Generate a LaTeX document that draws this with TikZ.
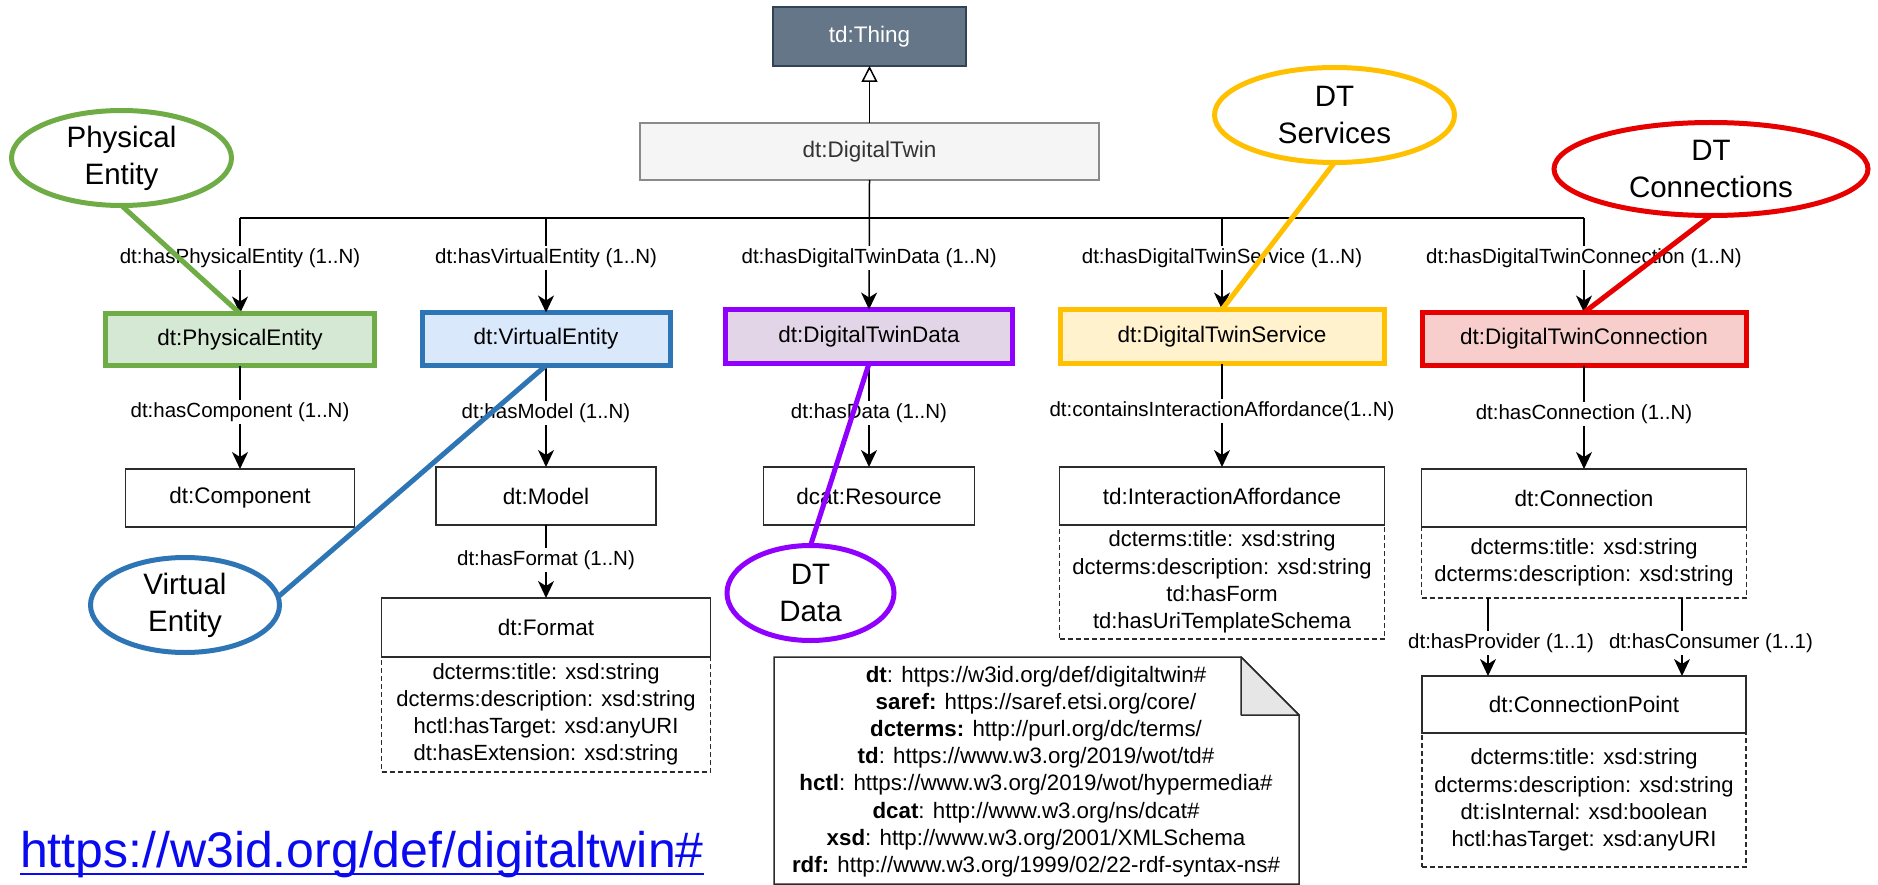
\documentclass[tikz,border=0pt]{standalone}
\usepackage{fontspec}
\setmainfont{Liberation Sans}
\usetikzlibrary{arrows.meta,shapes.geometric}

\definecolor{boxline}{HTML}{2B2B2B}
\definecolor{thingfill}{HTML}{647687}
\definecolor{thingline}{HTML}{314354}
\definecolor{twinfill}{HTML}{F5F5F5}
\definecolor{twinline}{HTML}{8A8A8A}
\definecolor{twintext}{HTML}{333333}
\definecolor{pegreen}{HTML}{6FAC46}
\definecolor{pefill}{HTML}{D5E8D4}
\definecolor{veblue}{HTML}{2E75B6}
\definecolor{vefill}{HTML}{DAE8FC}
\definecolor{dpurple}{HTML}{9000FF}
\definecolor{dfill}{HTML}{E1D5E7}
\definecolor{sgold}{HTML}{FFC000}
\definecolor{sfill}{HTML}{FFF2CC}
\definecolor{cred}{HTML}{E60000}
\definecolor{cfill}{HTML}{F8CECC}
\definecolor{foldgray}{HTML}{E6E6E6}
\definecolor{linkblue}{HTML}{0A0AF0}

\newcommand{\clsfont}{\fontsize{22.5}{27}\selectfont}
\newcommand{\attrfont}{\fontsize{22}{27.2}\selectfont}
\newcommand{\edgefont}{\fontsize{20.5}{24}\selectfont}
\newcommand{\ellfont}{\fontsize{29.5}{37}\selectfont}
\newcommand{\notefont}{\fontsize{22.3}{27.2}\selectfont}

\begin{document}
\begin{tikzpicture}[x=1pt,y=-1pt,
  every node/.style={inner sep=0pt, outer sep=0pt},
  cls/.style={rectangle, draw=boxline, line width=1.5pt, fill=white, text=black, font=\clsfont},
  hlbox/.style 2 args={cls, draw=#1, fill=#2, line width=5pt},
  attrs/.style={rectangle, draw=boxline, line width=1.5pt, dash pattern=on 5pt off 3pt,
                fill=white, align=center, font=\attrfont},
  arr/.style={-{Stealth[length=17pt,width=16pt,inset=5pt]}, line width=1.5pt},
  gen/.style={-{Triangle[length=16pt,width=16pt,fill=white]}, line width=1.5pt},
  bus/.style={line width=1.5pt},
  elabel/.style={fill=white, inner sep=2pt, font=\edgefont},
  callout/.style={ellipse, line width=5pt, fill=white, align=center, font=\ellfont},
  pointer/.style={line width=5pt}]

\useasboundingbox (0,0) rectangle (1878,885);

% top of the hierarchy
\node[cls, fill=thingfill, draw=thingline, line width=2pt, text=white,
      minimum width=193pt, minimum height=59pt] (thing) at (869.5,36.5) {td:Thing};
\node[cls, fill=twinfill, draw=twinline, line width=2pt, text=twintext,
      minimum width=459pt, minimum height=57pt] (twin) at (869.5,151.5) {dt:DigitalTwin};

% the five main facets
\node[hlbox={pegreen}{pefill}, minimum width=269pt, minimum height=52pt] (pe)  at (240,339.5)  {dt:PhysicalEntity};
\node[hlbox={veblue}{vefill},  minimum width=248pt, minimum height=53pt] (ve)  at (546,339)    {dt:VirtualEntity};
\node[hlbox={dpurple}{dfill},  minimum width=287pt, minimum height=54pt] (dtd) at (869,336.5)  {dt:DigitalTwinData};
\node[hlbox={sgold}{sfill},    minimum width=324pt, minimum height=54pt] (dts) at (1222,336.5) {dt:DigitalTwinService};
\node[hlbox={cred}{cfill},     minimum width=324pt, minimum height=53pt] (dtc) at (1584,339)   {dt:DigitalTwinConnection};

% attribute compartments (drawn before their class boxes)
\node[attrs, minimum width=329pt, minimum height=115pt] (formatattr) at (546,714.5)
  {dcterms:title: xsd:string\\dcterms:description: xsd:string\\hctl:hasTarget: xsd:anyURI\\dt:hasExtension: xsd:string};
\node[attrs, minimum width=325pt, minimum height=114pt] (iaattr) at (1222,582)
  {dcterms:title: xsd:string\\dcterms:description: xsd:string\\td:hasForm\\td:hasUriTemplateSchema};
\node[attrs, minimum width=325pt, minimum height=71pt] (connattr) at (1584,562.5)
  {dcterms:title: xsd:string\\dcterms:description: xsd:string};
\node[attrs, minimum width=324pt, minimum height=134pt] (cpattr) at (1584,800)
  {dcterms:title: xsd:string\\dcterms:description: xsd:string\\dt:isInternal: xsd:boolean\\hctl:hasTarget: xsd:anyURI};

% second level classes
\node[cls, minimum width=229pt, minimum height=58pt] (comp)   at (240,498)    {dt:Component};
\node[cls, minimum width=220pt, minimum height=58pt] (model)  at (546,496)    {dt:Model};
\node[cls, minimum width=329pt, minimum height=59pt] (format) at (546,627.5)  {dt:Format};
\node[cls, minimum width=211pt, minimum height=58pt] (res)    at (869,496)    {dcat:Resource};
\node[cls, minimum width=325pt, minimum height=58pt] (ia)     at (1222,496)   {td:InteractionAffordance};
\node[cls, minimum width=325pt, minimum height=58pt] (conn)   at (1584,498)   {dt:Connection};
\node[cls, minimum width=324pt, minimum height=57pt] (cp)     at (1584,704.5) {dt:ConnectionPoint};

% generalisation
\draw[gen] (twin.north) -- (thing.south);

% distribution bus under dt:DigitalTwin
\coordinate (b1) at (240,218);
\coordinate (b2) at (546,218);
\coordinate (b4) at (1222,218);
\coordinate (b5) at (1584,218);
\draw[bus] (b1) -- (b5);
\draw[arr] (twin.south) -- node[elabel, pos=0.602] {dt:hasDigitalTwinData (1..N)} (dtd.north);
\draw[arr] (b1) -- node[elabel, pos=0.419] {dt:hasPhysicalEntity (1..N)} (pe.north);
\draw[arr] (b2) -- node[elabel, pos=0.423] {dt:hasVirtualEntity (1..N)} (ve.north);
\draw[arr] (b4) -- node[elabel, pos=0.437] {dt:hasDigitalTwinService (1..N)} (dts.north);
\draw[arr] (b5) -- node[elabel, pos=0.423] {dt:hasDigitalTwinConnection (1..N)} (dtc.north);

% second level relations
\draw[arr] (pe.south)  -- node[elabel, pos=0.449] {dt:hasComponent (1..N)} (comp.north);
\draw[arr] (ve.south)  -- node[elabel, pos=0.468] {dt:hasModel (1..N)} (model.north);
\draw[arr] (model.south) -- node[elabel, pos=0.479] {dt:hasFormat (1..N)} (format.north);
\draw[arr] (dtd.south) -- node[elabel, pos=0.478] {dt:hasData (1..N)} (res.north);
\draw[arr] (dts.south) -- node[elabel, pos=0.459] {dt:containsInteractionAffordance(1..N)} (ia.north);
\draw[arr] (dtc.south) -- node[elabel, pos=0.469] {dt:hasConnection (1..N)} (conn.north);
\draw[arr] ([xshift=-96pt]connattr.south) -- node[elabel, pos=0.577, xshift=13pt] {dt:hasProvider (1..1)} ([xshift=-96pt]cp.north);
\draw[arr] ([xshift=98pt]connattr.south) -- node[elabel, pos=0.577, xshift=29pt] {dt:hasConsumer (1..1)} ([xshift=98pt]cp.north);

% namespace note with folded corner
\draw[line width=1.5pt, draw=boxline, fill=white]
  (774,657) -- (1241,657) -- (1299,715) -- (1299,884) -- (774,884) -- cycle;
\draw[line width=1.5pt, draw=boxline, fill=foldgray, line join=round]
  (1241,657) -- (1241,715) -- (1299,715) -- cycle;
\node[font=\notefont, align=center] (ns) at (1036,771.5)
  {\textbf{dt}: https://w3id.org/def/digitaltwin\#\\
   \textbf{saref:} https://saref.etsi.org/core/\\
   \textbf{dcterms:} http://purl.org/dc/terms/\\
   \textbf{td}: https://www.w3.org/2019/wot/td\#\\
   \textbf{hctl}: https://www.w3.org/2019/wot/hypermedia\#\\
   \textbf{dcat}: http://www.w3.org/ns/dcat\#\\
   \textbf{xsd}: http://www.w3.org/2001/XMLSchema\\
   \textbf{rdf:} http://www.w3.org/1999/02/22-rdf-syntax-ns\#};

% ontology link
\node[anchor=base west, text=linkblue, font=\fontsize{50}{60}\selectfont] (url) at (20,867)
  {https://w3id.org/def/digitaltwin\#};
\draw[linkblue, line width=2.5pt] ([yshift=-7pt]url.base west) -- ([yshift=-7pt]url.base east);

% highlight callouts
\node[callout, draw=pegreen, minimum width=220pt, minimum height=95pt] (pell) at (121.5,158) {Physical\\Entity};
\node[callout, draw=veblue,  minimum width=189pt, minimum height=95pt] (vell) at (185,605)   {Virtual\\Entity};
\node[callout, draw=dpurple, minimum width=167pt, minimum height=95pt] (dell) at (810.5,593) {DT\\Data};
\node[callout, draw=sgold,   minimum width=240pt, minimum height=95pt] (sell) at (1334.5,115) {DT\\Services};
\node[callout, draw=cred,    minimum width=314pt, minimum height=93pt] (cell) at (1711,169)  {DT\\Connections};

\draw[pointer, draw=pegreen] (pell.south) -- (pe.north);
\draw[pointer, draw=veblue]  (vell.5) -- (ve.south);
\draw[pointer, draw=dpurple] (dell.north) -- (dtd.south);
\draw[pointer, draw=sgold]   (sell.south) -- (dts.north);
\draw[pointer, draw=cred]    (cell.south) -- (dtc.north);

\end{tikzpicture}
\end{document}
